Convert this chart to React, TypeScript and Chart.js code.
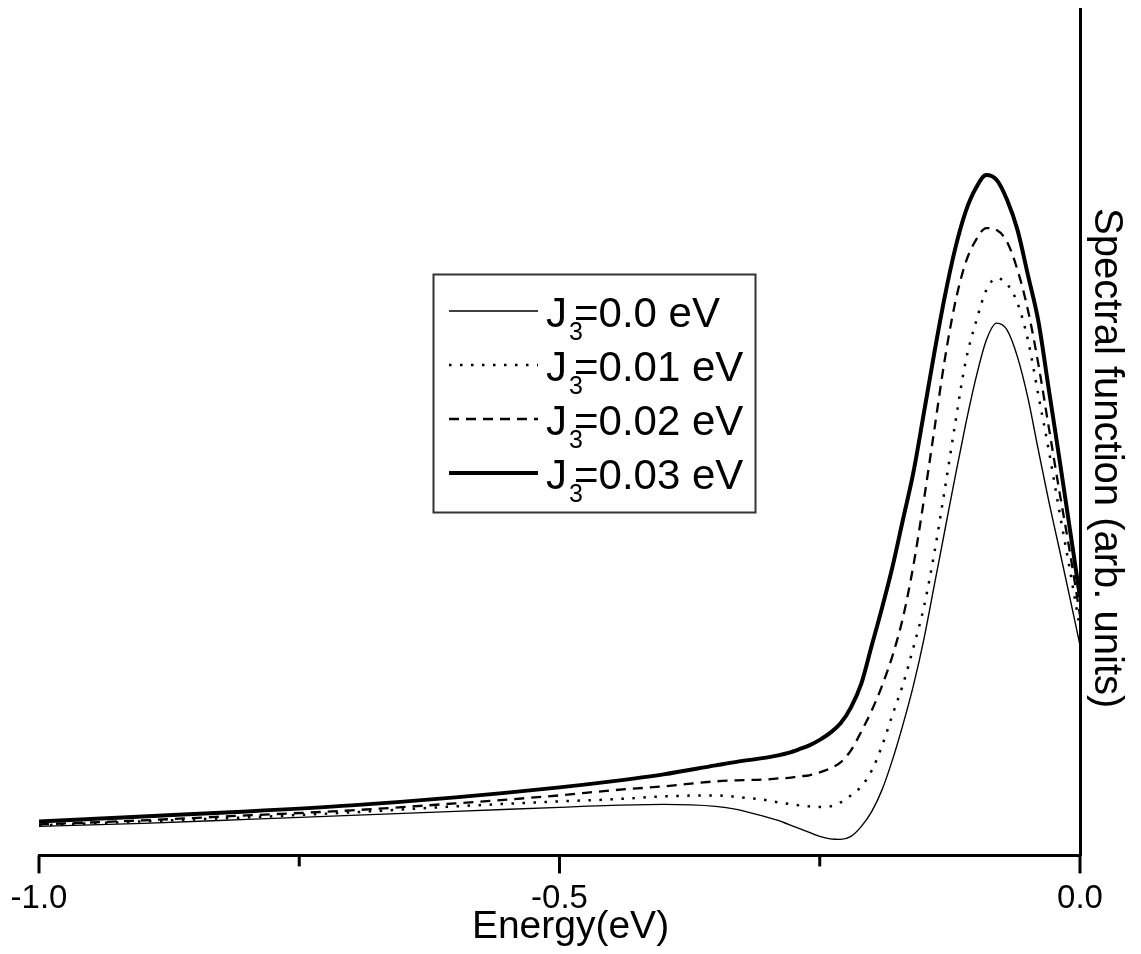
import React, { useEffect, useRef } from "react";
import { Chart, registerables } from "chart.js";

Chart.register(...registerables);

// ---- data ----
const energies = [
  -1.0, -0.9, -0.8, -0.7, -0.6, -0.5, -0.45, -0.4, -0.35, -0.33,
  -0.3, -0.29, -0.28, -0.27, -0.26, -0.25, -0.24, -0.23, -0.22, -0.21,
  -0.2, -0.19, -0.18, -0.17, -0.16, -0.15, -0.14, -0.13, -0.12, -0.11,
  -0.1, -0.09, -0.08, -0.07, -0.06, -0.05, -0.04, -0.03, -0.02, -0.01,
  0.0,
];

// J3 = 0.0 eV (thin solid)
const spectrumJ0 = [
  0.29, 0.32, 0.36, 0.4, 0.44, 0.48, 0.5, 0.51, 0.49, 0.46,
  0.38, 0.35, 0.31, 0.27, 0.23, 0.19, 0.165, 0.16, 0.19, 0.29,
  0.44, 0.66, 0.96, 1.31, 1.7, 2.16, 2.7, 3.24, 3.78, 4.3,
  4.77, 5.15, 5.32, 5.25, 4.98, 4.57, 4.05, 3.54, 3.07, 2.59,
  2.1,
];

// J3 = 0.01 eV (dotted)
const spectrumJ1 = [
  0.3, 0.34, 0.38, 0.43, 0.49, 0.54, 0.56, 0.59, 0.6, 0.585,
  0.55, 0.53, 0.515, 0.5, 0.49, 0.485, 0.49, 0.53, 0.6, 0.69,
  0.85, 1.1, 1.41, 1.71, 2.08, 2.48, 3.02, 3.65, 4.31, 4.93,
  5.33, 5.65, 5.77, 5.71, 5.52, 5.15, 4.6, 4.05, 3.45, 2.87,
  2.27,
];

// J3 = 0.02 eV (dashed)
const spectrumJ2 = [
  0.31, 0.35, 0.4, 0.45, 0.52, 0.6, 0.65, 0.69, 0.74, 0.75,
  0.76, 0.77, 0.775, 0.79, 0.8, 0.83, 0.87, 0.93, 1.05, 1.24,
  1.45, 1.7, 2.0, 2.38, 2.9, 3.55, 4.25, 4.95, 5.52, 5.92,
  6.15, 6.27, 6.25, 6.13, 5.85, 5.45, 4.91, 4.28, 3.65, 3.05,
  2.4,
];

// J3 = 0.03 eV (thick solid)
const spectrumJ3 = [
  0.34, 0.39, 0.44, 0.5, 0.58, 0.68, 0.74, 0.81, 0.9, 0.935,
  0.98, 1.0, 1.025, 1.06, 1.1, 1.155, 1.225, 1.32, 1.48, 1.72,
  2.1, 2.48, 2.89, 3.36, 3.83, 4.42, 5.02, 5.58, 6.06, 6.43,
  6.67, 6.8, 6.75, 6.55, 6.25, 5.8, 5.34, 4.66, 3.98, 3.28,
  2.58,
];

const seriesLabels = ["J₃=0.0 eV", "J₃=0.01 eV", "J₃=0.02 eV", "J₃=0.03 eV"];
const majorTickValues = [-1.0, -0.5, 0.0];
const xTickLabels = ["-1.0", "-0.5", "0.0"];
const xAxisTitle = "Energy(eV)";
const yAxisTitle = "Spectral function (arb. units)";

const FONT = '"Liberation Sans", Arial, Helvetica, sans-serif';

const toPoints = (ys: number[]) => energies.map((x, i) => ({ x, y: ys[i] }));

const decorPlugin = {
  id: "decor",
  afterDraw(chart: any) {
    const ctx = chart.ctx as CanvasRenderingContext2D;
    const xs = chart.scales.x;
    const area = chart.chartArea;
    ctx.save();

    // x tick marks (major long, minor short), pointing outward
    ctx.strokeStyle = "#000";
    ctx.lineWidth = 3;
    ctx.lineCap = "butt";
    xs.ticks.forEach((t: any) => {
      const px = xs.getPixelForValue(t.value);
      const major = majorTickValues.some((m) => Math.abs(m - t.value) < 1e-6);
      const len = major ? 18 : 11;
      ctx.beginPath();
      ctx.moveTo(px, area.bottom);
      ctx.lineTo(px, area.bottom + len);
      ctx.stroke();
    });

    // axis titles
    ctx.fillStyle = "#000";
    ctx.font = `39px ${FONT}`;
    ctx.textAlign = "center";
    ctx.textBaseline = "alphabetic";
    ctx.fillText(xAxisTitle, (area.left + area.right) / 2 + 11, area.bottom + 83);

    ctx.save();
    ctx.font = `40px ${FONT}`;
    ctx.translate(area.right + 15, (area.top + area.bottom) / 2 + 26);
    ctx.rotate(Math.PI / 2);
    ctx.fillText(yAxisTitle, 0, 0);
    ctx.restore();

    // legend
    const bx = 433.5, by = 274.5, bw = 322, bh = 238;
    ctx.fillStyle = "#fff";
    ctx.fillRect(bx, by, bw, bh);
    ctx.strokeStyle = "#333";
    ctx.lineWidth = 2;
    ctx.setLineDash([]);
    ctx.strokeRect(bx, by, bw, bh);

    chart.data.datasets.forEach((ds: any, i: number) => {
      const ly = 311 + i * 54;
      ctx.save();
      ctx.strokeStyle = "#000";
      ctx.lineWidth = ds.borderWidth;
      ctx.lineCap = "butt";
      ctx.setLineDash(ds.borderDash || []);
      ctx.beginPath();
      ctx.moveTo(449, ly);
      ctx.lineTo(538, ly);
      ctx.stroke();
      ctx.restore();

      const [main, rest] = String(ds.label).split("₃");
      ctx.fillStyle = "#000";
      ctx.textAlign = "left";
      ctx.textBaseline = "alphabetic";
      ctx.font = `42px ${FONT}`;
      ctx.fillText(main, 546, ly + 16);
      const wMain = ctx.measureText(main).width;
      ctx.font = `25px ${FONT}`;
      ctx.fillText("3", 546 + wMain + 2, ly + 29);
      ctx.font = `42px ${FONT}`;
      ctx.fillText(rest, 546 + wMain + 7, ly + 16);
    });

    ctx.restore();
  },
};

export default function App() {
  const canvasRef = useRef<HTMLCanvasElement | null>(null);

  useEffect(() => {
    document.body.style.margin = "0";
    const canvas = canvasRef.current;
    if (!canvas) return;
    const common = {
      pointRadius: 0,
      borderColor: "#000",
      backgroundColor: "#000",
      fill: false,
      cubicInterpolationMode: "monotone" as const,
      borderCapStyle: "butt" as const,
    };
    const chart = new Chart(canvas, {
      type: "line",
      data: {
        datasets: [
          { ...common, label: seriesLabels[0], data: toPoints(spectrumJ0), borderWidth: 1.4, borderDash: [] },
          { ...common, label: seriesLabels[1], data: toPoints(spectrumJ1), borderWidth: 2.5, borderDash: [2.5, 8.5] },
          { ...common, label: seriesLabels[2], data: toPoints(spectrumJ2), borderWidth: 2.3, borderDash: [10, 7] },
          { ...common, label: seriesLabels[3], data: toPoints(spectrumJ3), borderWidth: 4, borderDash: [] },
        ],
      },
      options: {
        responsive: false,
        animation: false,
        devicePixelRatio: 1,
        layout: { padding: { left: 39, right: 61, top: 9, bottom: 11 } },
        plugins: {
          legend: { display: false },
          tooltip: { enabled: false },
          title: { display: false },
        },
        scales: {
          x: {
            type: "linear",
            position: "bottom",
            min: -1,
            max: 0,
            grid: { display: false, drawTicks: false },
            border: { display: true, color: "#000", width: 3 },
            afterFit: (scale: any) => {
              scale.paddingLeft = 0;
              scale.paddingRight = 0;
            },
            ticks: {
              stepSize: 0.25,
              autoSkip: false,
              maxRotation: 0,
              padding: 24,
              color: "#000",
              font: { family: FONT, size: 33 },
              callback: (v: any) => {
                const idx = majorTickValues.findIndex((m) => Math.abs(m - Number(v)) < 1e-6);
                return idx >= 0 ? xTickLabels[idx] : "";
              },
            },
          },
          y: {
            type: "linear",
            position: "right",
            min: 0,
            max: 8.46,
            grid: { display: false, drawTicks: false },
            border: { display: true, color: "#000", width: 3 },
            ticks: { display: false },
          },
        },
      },
      plugins: [decorPlugin],
    });
    return () => chart.destroy();
  }, []);

  return (
    <div style={{ position: "absolute", left: 0, top: 0, width: 1141, height: 954, background: "#fff" }}>
      <canvas ref={canvasRef} width={1141} height={954} style={{ display: "block" }} />
    </div>
  );
}
